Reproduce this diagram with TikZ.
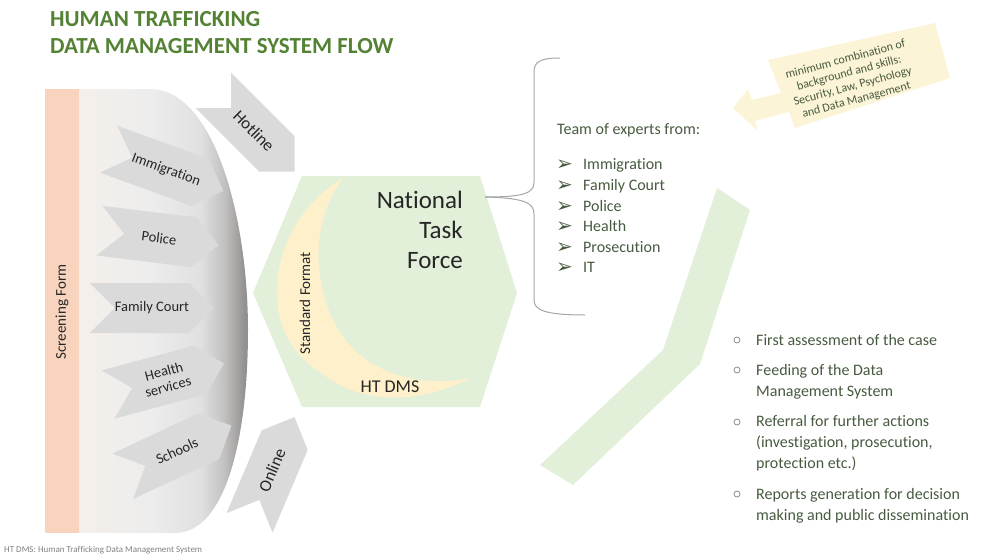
\documentclass[tikz,border=0pt]{standalone}
\usepackage{fontspec}
\setmainfont{Carlito}[Ligatures=NoCommon]
\newfontfamily\symfont{DejaVu Sans}
\usetikzlibrary{shapes.symbols}
\definecolor{titlegreen}{HTML}{548235}
\definecolor{hexgreen}{HTML}{E2EFD9}
\definecolor{moongold}{HTML}{FDF0CA}
\definecolor{screenbar}{HTML}{F8D4BF}
\definecolor{chevgray}{HTML}{DADADA}
\definecolor{notefill}{HTML}{FCF4D6}
\definecolor{listtext}{HTML}{475A40}
\definecolor{bracegray}{HTML}{A6A6A6}
\definecolor{inktext}{HTML}{262626}
\definecolor{edgeA}{HTML}{F4EFEA}
\definecolor{edgeB}{HTML}{EDEDED}
\definecolor{edgeC}{HTML}{E0E0E0}
\definecolor{edgeD}{HTML}{C2C1C0}
\definecolor{edgeE}{HTML}{929090}
\pgfdeclarehorizontalshading{grayedge}{100bp}{color(0bp)=(edgeA); color(25bp)=(edgeA); color(46bp)=(edgeB); color(61bp)=(edgeC); color(68bp)=(edgeD); color(74bp)=(edgeE); color(100bp)=(edgeE)}
\tikzset{
  chevron/.style={signal, signal from=west, signal to=east, fill=chevgray, minimum width=120, minimum height=50, inner sep=0, text=inktext, align=center, font=\fontsize{14.5}{16}\selectfont},
  bigchevron/.style={chevron, minimum width=115, font=\fontsize{17}{20}\selectfont},
  expert/.style={anchor=base west, inner sep=0, text=listtext, font=\fontsize{16}{20.7}\selectfont},
}

\begin{document}
\begin{tikzpicture}[x=1pt,y=-1pt]
      \useasboundingbox (0,0) rectangle (987,554);
      % title
      \node[anchor=base west, inner sep=0, text=titlegreen, font=\bfseries\fontsize{23}{26}\selectfont] (title1) at (50,27) {HUMAN TRAFFICKING};
      \node[anchor=base west, inner sep=0, text=titlegreen, font=\bfseries\fontsize{23}{26}\selectfont] (title2) at (50,53) {DATA MANAGEMENT SYSTEM FLOW};
      % screening form bar and the shaded intake shape
      \fill[screenbar] (45,89) rectangle (79,533);
      \shade[shading=grayedge] (79,89) -- (150,89) .. controls (215,89) and (248,220) .. (248,330) .. controls (248,440) and (225,533) .. (175,533) -- (79,533) -- cycle;
      \node[rotate=90, text=inktext, font=\fontsize{15}{18}\selectfont] (screen) at (62,312) {Screening Form};
      % sources
      \node[chevron, rotate=-20] (immig) at (166,170) {Immigration};
      \node[chevron, rotate=-7] (police) at (159,238) {Police};
      \node[chevron, minimum width=123] (court) at (152,308) {Family Court};
      \node[chevron, rotate=15] (health) at (166,379) {Health\\services};
      \node[chevron, rotate=25] (school) at (177,451) {Schools};
      \node[bigchevron, rotate=-45] (hotline) at (254,131) {Hotline};
      \node[bigchevron, rotate=67] (online) at (272,470) {Online};
      % national task force hexagon
      \fill[hexgreen] (253,293) -- (302,176) -- (480,176) -- (517,293) -- (480,407) -- (302,407) -- cycle;
      \fill[moongold] (343,178) .. controls (270,220) and (250,330) .. (320,372) .. controls (365,410) and (430,400) .. (470,378)
          .. controls (420,388) and (360,375) .. (333,320) .. controls (310,270) and (315,215) .. (343,178) -- cycle;
      \node[anchor=base east, inner sep=0, align=right, text=inktext, font=\fontsize{25}{30}\selectfont] (ntf) at (463,268) {National\\Task\\Force};
      \node[rotate=90, text=inktext, font=\fontsize{15}{18}\selectfont] (stdformat) at (305,303) {Standard Format};
      \node[text=inktext, font=\fontsize{18}{20}\selectfont] (htdms) at (390,387) {HT DMS};
      % brace to the team of experts
      \coordinate (bracetip) at (485,197);
      \draw[bracegray, line width=1] (bracetip) .. controls (525,197) and (534,193) .. (534,182) -- (534,72) .. controls (534,62) and (540,58) .. (560,58);
      \draw[bracegray, line width=1] (bracetip) .. controls (525,198) and (534,203) .. (534,214) -- (534,300) .. controls (534,310) and (545,315) .. (585,315);
      \node[expert] (team) at (557,134) {Team of experts from:};
      \foreach \name/\y [count=\i] in {Immigration/169, Family Court/190, Police/211, Health/231, Prosecution/252, IT/272} {
        \node[expert, font=\symfont\fontsize{20}{22}\selectfont] (arrow\i) at (556,\y+1) {➢};
        \node[expert] (expert\i) at (583,\y) {\name};
      }
      % note with skills
      \fill[notefill] (768,60) -- (935,23) -- (950,78) -- (795,128) -- (789,112) -- (755,121) -- (758,131) -- (733,108) -- (748,89) -- (752,100) -- (781,93) -- cycle;
      \node[rotate=15, align=center, inner sep=0, text=listtext, font=\fontsize{12}{14}\selectfont] (skills) at (851,80) {minimum combination of\\background and skills:\\Security, Law, Psychology\\and Data Management};
      % green band
      \fill[hexgreen] (717,188) -- (750,210) -- (700,364) -- (573,485) -- (540,465) -- (663,350) -- cycle;
      % tasks: first baseline for the dot, last baseline for the text
      \foreach \txt/\ya/\yb [count=\i] in {{First assessment of the case}/345/345, {Feeding of the Data\\Management System}/375/396, {Referral for further actions\\(investigation, prosecution,\\protection etc.)}/427/468, {Reports generation for decision\\making and public dissemination}/499/520} {
        \node[draw=gray, circle, inner sep=0, minimum size=6, line width=0.7] (dot\i) at (737,\ya-5) {};
        \node[expert, align=left] (task\i) at (756,\yb) {\txt};
      }
      % footnote
      \node[anchor=base west, inner sep=0, text=gray, font=\fontsize{9}{10}\selectfont] (foot) at (4,552) {HT DMS: Human Trafficking Data Management System};
    \end{tikzpicture}
\end{document}
